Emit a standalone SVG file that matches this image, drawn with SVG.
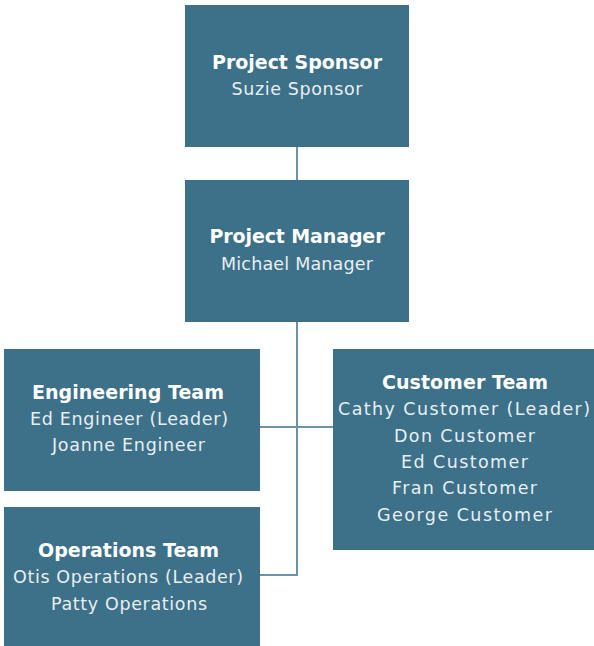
<svg xmlns="http://www.w3.org/2000/svg" width="594" height="646" viewBox="0 0 594 646">
  <style>
    .box { fill: #3d7089; }
    .title { font-family: "DejaVu Sans", "Liberation Sans", sans-serif; font-weight: bold; font-size: 19px; fill: #ffffff; text-anchor: middle; }
    .sub { font-family: "DejaVu Sans", "Liberation Sans", sans-serif; font-size: 17.5px; fill: #e8eff3; text-anchor: middle; }
    .link { fill: none; stroke: #6a93aa; stroke-width: 2; }
  </style>
  <rect width="594" height="646" fill="#ffffff"/>

  <g id="connectors">
    <line class="link" x1="297" y1="147" x2="297" y2="180"/>
    <polyline class="link" points="297,322 297,575 260,575"/>
    <line class="link" x1="260" y1="427" x2="333" y2="427"/>
  </g>

  <g id="sponsor">
    <rect class="box" x="185" y="5" width="224" height="142"/>
    <text class="title" x="297" y="69" textLength="170" lengthAdjust="spacing">Project Sponsor</text>
    <text class="sub" x="297" y="95" textLength="131" lengthAdjust="spacing">Suzie Sponsor</text>
  </g>

  <g id="manager">
    <rect class="box" x="185" y="180" width="224" height="142"/>
    <text class="title" x="297" y="243" textLength="175" lengthAdjust="spacing">Project Manager</text>
    <text class="sub" x="297" y="270" textLength="152" lengthAdjust="spacing">Michael Manager</text>
  </g>

  <g id="engineering">
    <rect class="box" x="4" y="349" width="256" height="142"/>
    <text class="title" x="128" y="399" textLength="192" lengthAdjust="spacing">Engineering Team</text>
    <text class="sub" x="129" y="425" textLength="198" lengthAdjust="spacing">Ed Engineer (Leader)</text>
    <text class="sub" x="128.5" y="451" textLength="153" lengthAdjust="spacing">Joanne Engineer</text>
  </g>

  <g id="customer">
    <rect class="box" x="333" y="349" width="261" height="201"/>
    <text class="title" x="465" y="389" textLength="166" lengthAdjust="spacing">Customer Team</text>
    <text class="sub" x="464" y="415" textLength="252" lengthAdjust="spacing">Cathy Customer (Leader)</text>
    <text class="sub" x="464.5" y="442" textLength="141" lengthAdjust="spacing">Don Customer</text>
    <text class="sub" x="464.5" y="468" textLength="127" lengthAdjust="spacing">Ed Customer</text>
    <text class="sub" x="464.5" y="494" textLength="145" lengthAdjust="spacing">Fran Customer</text>
    <text class="sub" x="464.5" y="521" textLength="175" lengthAdjust="spacing">George Customer</text>
  </g>

  <g id="operations">
    <rect class="box" x="4" y="507" width="256" height="139"/>
    <text class="title" x="128.5" y="557" textLength="181" lengthAdjust="spacing">Operations Team</text>
    <text class="sub" x="128" y="583" textLength="230" lengthAdjust="spacing">Otis Operations (Leader)</text>
    <text class="sub" x="129" y="610" textLength="156" lengthAdjust="spacing">Patty Operations</text>
  </g>
</svg>
